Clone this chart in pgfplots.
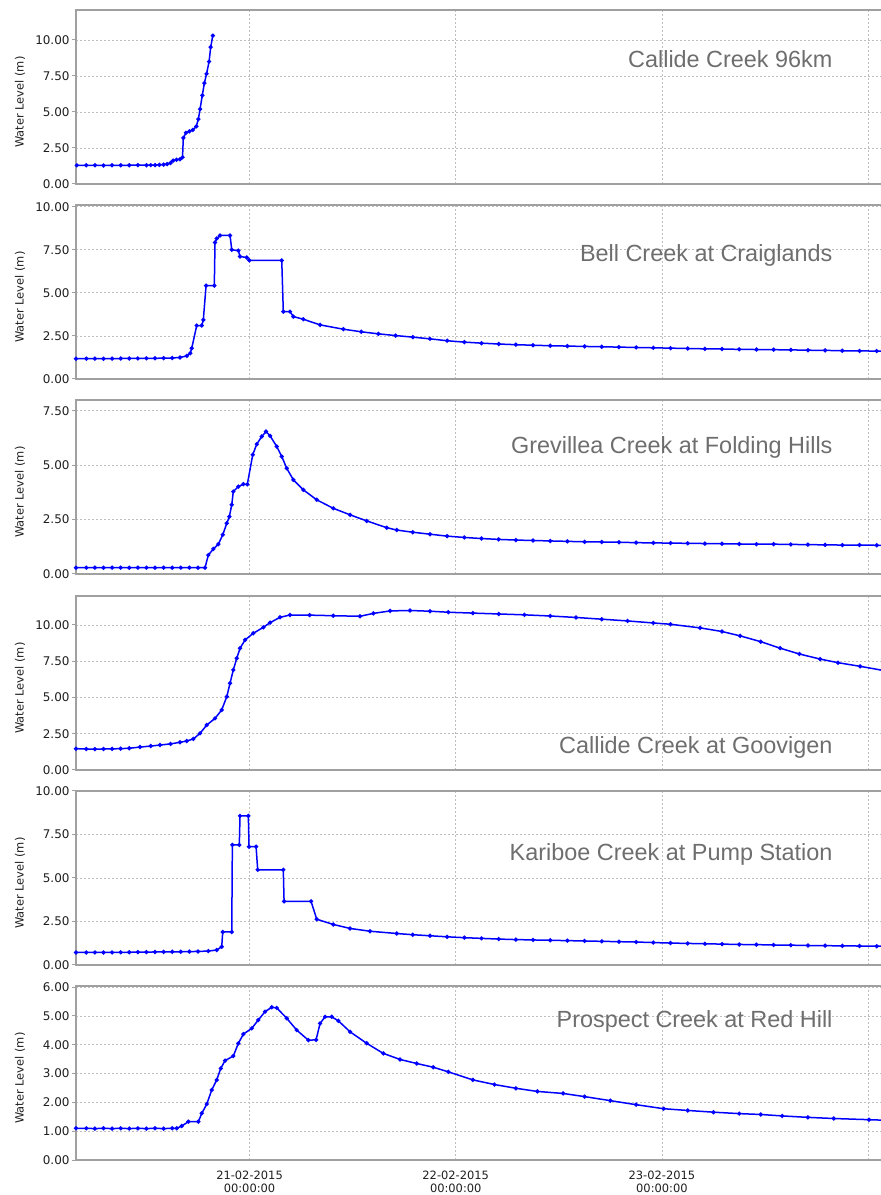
\documentclass[border=0pt]{standalone}
\usepackage{pgfplots}
\pgfplotsset{compat=1.18}
\usepackage{fontspec}
\setmainfont{DejaVu Sans}
\newfontfamily\titlefont{Liberation Sans}
\definecolor{axgray}{RGB}{160,160,160}
\definecolor{gridgray}{RGB}{190,190,190}
\definecolor{titlegray}{RGB}{110,110,110}
\definecolor{ticktext}{RGB}{30,30,30}
\definecolor{wlblue}{RGB}{0,0,255}
\pgfplotsset{
  panel/.style={
    scale only axis, width=808bp, height=174bp, anchor=south west,
    xmin=-20.2, xmax=73.85, ymin=0,
    xtick={0,24,48,72}, xticklabels={},
    grid=major,
    major grid style={gridgray, line width=0.8bp, dash pattern=on 2bp off 2bp},
    axis line style={axgray, line width=1.3bp},
    tick align=outside, major tick length=4bp,
    ytick pos=left, xtick pos=bottom,
    y tick style={axgray, line width=1bp},
    x tick style={draw=none},
    /pgf/number format/fixed, /pgf/number format/fixed zerofill,
    /pgf/number format/precision=2, /pgf/number format/assume math mode=true,
    yticklabel style={font=\fontsize{12}{14}\selectfont, text=ticktext, xshift=1bp},
    ylabel={Water Level (m)},
    ylabel style={font=\fontsize{11.5}{13}\selectfont, text=ticktext, at={(axis description cs:-0.0693,0.47)}, anchor=center},
    every axis plot/.append style={wlblue, line width=1.5bp, mark=*, mark size=1.3bp},
  },
}
\tikzset{ttl/.style={anchor=base east, font=\titlefont\fontsize{23.5}{26}\selectfont, text=titlegray}}
\begin{document}
\begin{tikzpicture}
\path[use as bounding box] (0bp,0bp) rectangle (881bp,1195bp);

% Panel 1
\begin{axis}[panel, at={(76bp,1011bp)}, ymax=12.08, ytick={0,2.5,5,7.5,10}]
\addplot coordinates {(-20.1,1.30) (-19,1.30) (-18,1.30) (-17,1.29) (-16,1.30) (-15,1.30) (-14,1.30) (-13,1.31) (-12,1.30) (-11.5,1.31) (-11,1.31) (-10.5,1.33) (-10,1.35) (-9.6,1.38) (-9.2,1.45) (-8.9,1.62) (-8.5,1.68) (-8.1,1.72) (-7.8,1.85) (-7.71,3.20) (-7.4,3.55) (-7.0,3.65) (-6.6,3.75) (-6.2,4.00) (-5.96,4.50) (-5.76,5.20) (-5.5,6.15) (-5.26,7.00) (-5.0,7.65) (-4.71,8.50) (-4.52,9.50) (-4.28,10.30)};
\node[ttl] at (rel axis cs:0.9406,0.671) {Callide Creek 96km};
\end{axis}

% Panel 2
\begin{axis}[panel, at={(76bp,816bp)}, ymax=10.1, ytick={0,2.5,5,7.5,10}]
\addplot coordinates {(-20.2,1.18) (-19,1.18) (-18,1.18) (-17,1.18) (-16,1.18) (-15,1.19) (-14,1.19) (-13,1.19) (-12,1.20) (-11,1.20) (-10,1.21) (-9,1.22) (-8.1,1.25) (-7.3,1.34) (-6.9,1.49) (-6.73,1.78) (-6.15,3.10) (-5.56,3.10) (-5.38,3.43) (-5.06,5.42) (-4.1,5.42) (-4.02,7.92) (-3.82,8.15) (-3.43,8.33) (-2.27,8.33) (-2.07,7.50) (-1.3,7.45) (-1.11,7.11) (-0.33,7.05) (-0.02,6.88) (3.75,6.88) (3.93,3.91) (4.71,3.91) (5.10,3.62) (6.26,3.47) (8.21,3.14) (10.92,2.89) (13,2.74) (15,2.62) (17,2.52) (19,2.43) (21,2.33) (23,2.22) (25,2.14) (27,2.08) (29,2.03) (31,1.99) (33,1.96) (35,1.93) (37,1.91) (39,1.89) (41,1.87) (43,1.85) (45,1.83) (47,1.81) (49,1.79) (51,1.77) (53,1.75) (55,1.74) (57,1.72) (59,1.71) (61,1.70) (63,1.69) (65,1.67) (67,1.66) (69,1.64) (71,1.63) (73,1.62) (74,1.61)};
\node[ttl] at (rel axis cs:0.9406,0.678) {Bell Creek at Craiglands};
\end{axis}

% Panel 3
\begin{axis}[panel, at={(76bp,621bp)}, ymax=8.0, ytick={0,2.5,5,7.5}]
\addplot coordinates {(-20.2,0.29) (-19,0.29) (-18,0.29) (-17,0.29) (-16,0.29) (-15,0.29) (-14,0.29) (-13,0.29) (-12,0.29) (-11,0.29) (-10,0.29) (-9,0.29) (-8,0.29) (-7,0.29) (-6,0.29) (-5.18,0.29) (-4.80,0.87) (-4.21,1.15) (-3.63,1.37) (-3.12,1.80) (-2.65,2.33) (-2.35,2.64) (-2.07,3.18) (-1.89,3.79) (-1.30,4.02) (-0.72,4.13) (-0.26,4.12) (0.37,5.48) (0.84,5.97) (1.42,6.32) (1.92,6.55) (2.39,6.35) (3.17,5.86) (3.75,5.40) (4.33,4.86) (5.10,4.33) (6.26,3.87) (7.82,3.41) (9.75,3.02) (11.70,2.72) (13.64,2.44) (15.97,2.13) (17.13,2.02) (19,1.92) (21,1.83) (23,1.74) (25,1.68) (27,1.63) (29,1.59) (31,1.56) (33,1.54) (35,1.52) (37,1.50) (39,1.48) (41,1.47) (43,1.46) (45,1.44) (47,1.43) (49,1.42) (51,1.41) (53,1.40) (55,1.39) (57,1.38) (59,1.37) (61,1.37) (63,1.36) (65,1.35) (67,1.34) (69,1.33) (71,1.33) (73,1.32) (74,1.32)};
\node[ttl] at (rel axis cs:0.9406,0.69) {Grevillea Creek at Folding Hills};
\end{axis}

% Panel 4
\begin{axis}[panel, at={(76bp,425bp)}, ymax=12.0, ytick={0,2.5,5,7.5,10}]
\addplot coordinates {(-20.2,1.47) (-19,1.45) (-18,1.44) (-17,1.45) (-16,1.46) (-15,1.47) (-14,1.50) (-12.75,1.58) (-11.5,1.65) (-10.42,1.72) (-9.2,1.80) (-8.09,1.91) (-7.3,2.00) (-6.54,2.14) (-5.76,2.53) (-4.98,3.10) (-4.02,3.56) (-3.24,4.14) (-2.65,5.06) (-2.27,5.98) (-1.89,6.90) (-1.49,7.70) (-1.11,8.39) (-0.52,8.97) (0.44,9.43) (1.61,9.84) (2.39,10.16) (3.55,10.53) (4.71,10.69) (7,10.68) (9.75,10.64) (12.86,10.60) (14.41,10.80) (16.36,10.97) (18.68,11.00) (21,10.95) (23.14,10.88) (26,10.82) (29,10.76) (32,10.70) (35,10.62) (38,10.52) (41,10.40) (44,10.28) (47,10.14) (49,10.05) (52.45,9.80) (55,9.55) (57.1,9.25) (59.5,8.85) (61.76,8.40) (64,8.00) (66.41,7.65) (68.5,7.40) (71.07,7.15) (73.9,6.85)};
\node[ttl] at (rel axis cs:0.9406,0.092) {Callide Creek at Goovigen};
\end{axis}

% Panel 5
\begin{axis}[panel, at={(76bp,230bp)}, ymax=10.0, ytick={0,2.5,5,7.5,10}]
\addplot coordinates {(-20.2,0.72) (-19,0.72) (-18,0.72) (-17,0.72) (-16,0.72) (-15,0.73) (-14,0.73) (-13,0.74) (-12,0.74) (-11,0.75) (-10,0.75) (-9,0.76) (-8,0.76) (-7,0.77) (-6,0.78) (-4.8,0.80) (-3.82,0.86) (-3.24,1.05) (-3.12,1.90) (-2.07,1.90) (-2.00,6.90) (-1.19,6.90) (-1.11,8.57) (-0.14,8.57) (-0.06,6.80) (0.76,6.80) (0.95,5.47) (3.93,5.47) (4.02,3.66) (7.16,3.66) (7.82,2.63) (9.75,2.33) (11.70,2.10) (14.03,1.94) (17.13,1.81) (19,1.74) (21,1.68) (23,1.62) (25,1.57) (27,1.53) (29,1.49) (31,1.46) (33,1.44) (35,1.42) (37,1.40) (39,1.38) (41,1.36) (43,1.34) (45,1.32) (47,1.29) (49,1.26) (51,1.24) (53,1.22) (55,1.20) (57,1.18) (59,1.17) (61,1.15) (63,1.14) (65,1.12) (67,1.11) (69,1.10) (71,1.09) (73,1.08) (74,1.08)};
\node[ttl] at (rel axis cs:0.9406,0.603) {Kariboe Creek at Pump Station};
\end{axis}

% Panel 6
\begin{axis}[panel, at={(76bp,35bp)}, ymax=6.04, ytick={0,1,2,3,4,5,6},
  xticklabels={{21-02-2015\\00:00:00},{22-02-2015\\00:00:00},{23-02-2015\\00:00:00},{}},
  x tick style={axgray, line width=1bp},
  xticklabel style={font=\fontsize{11.5}{14}\selectfont, text=ticktext, align=center, yshift=-3bp}]
\addplot coordinates {(-20.2,1.10) (-19,1.10) (-18,1.09) (-17,1.10) (-16,1.09) (-15,1.10) (-14,1.09) (-13,1.10) (-12,1.09) (-11,1.10) (-10,1.09) (-9,1.10) (-8.47,1.10) (-7.89,1.18) (-7.12,1.33) (-5.96,1.33) (-5.56,1.62) (-4.98,1.94) (-4.40,2.43) (-3.82,2.78) (-3.35,3.18) (-2.85,3.45) (-1.89,3.61) (-1.30,4.05) (-0.72,4.37) (0.26,4.57) (1.02,4.86) (1.80,5.15) (2.58,5.30) (3.17,5.28) (4.33,4.92) (5.49,4.51) (6.84,4.16) (7.74,4.17) (8.21,4.74) (8.79,4.97) (9.57,4.97) (10.34,4.83) (11.70,4.45) (13.64,4.05) (15.57,3.70) (17.52,3.49) (19.46,3.35) (21.39,3.22) (23.14,3.06) (26.0,2.78) (28.5,2.62) (31,2.49) (33.5,2.38) (36.5,2.31) (39,2.20) (42,2.06) (45,1.92) (48.2,1.78) (51,1.72) (54,1.66) (57,1.61) (59.5,1.58) (62,1.53) (65,1.48) (68,1.44) (72.1,1.40) (73.9,1.38)};
\node[ttl] at (rel axis cs:0.9406,0.759) {Prospect Creek at Red Hill};
\end{axis}
\end{tikzpicture}
\end{document}
